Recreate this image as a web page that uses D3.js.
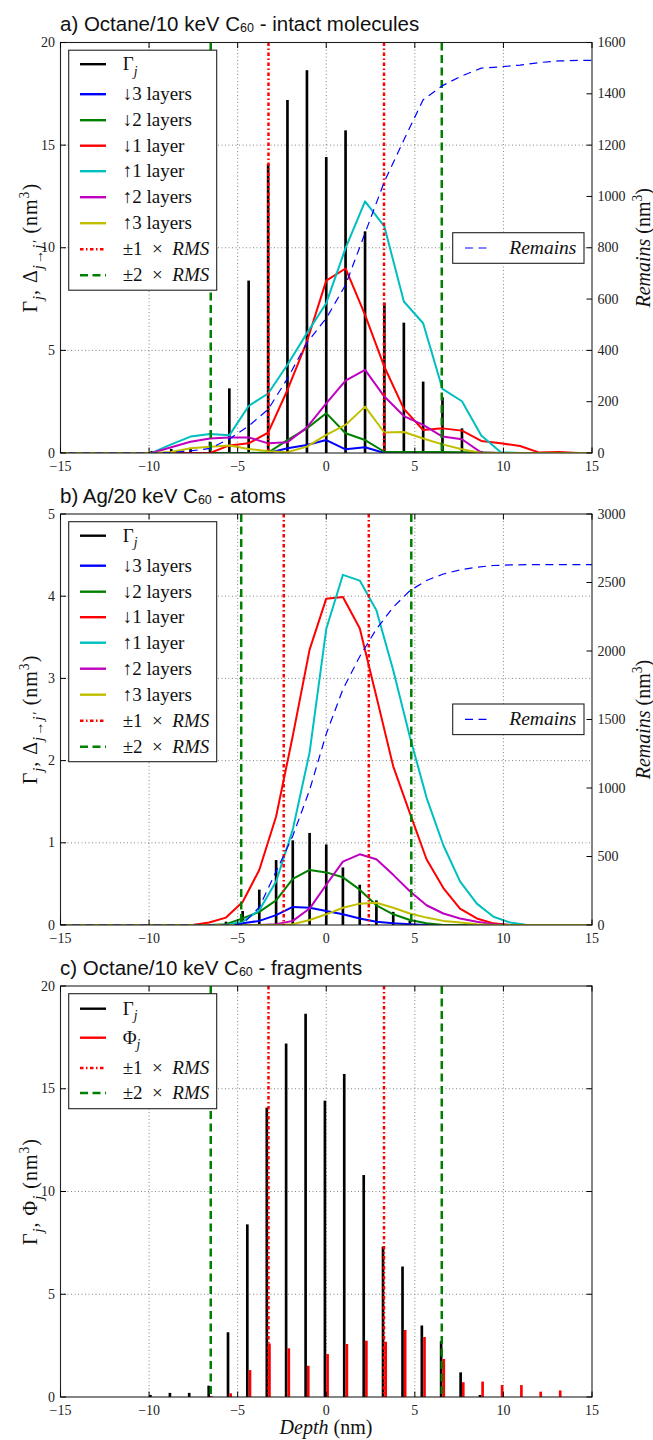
<!DOCTYPE html>
<html>
<head>
<meta charset="utf-8">
<script src="https://cdn.jsdelivr.net/npm/d3@7/dist/d3.min.js"></script>
<style>
  body { margin: 0; background: #fff; }
  svg { display: block; }
</style>
</head>
<body>
<svg id="fig" width="653" height="1440"></svg>
<script>
// ---------- Panel a: Octane/10 keV C60, intact molecules ----------
const depthA = [-15.32, -14.22, -13.13, -12.03, -10.94, -9.85, -8.75, -7.66, -6.56, -5.47, -4.38, -3.28, -2.19, -1.09, 0,
                1.09, 2.19, 3.28, 4.38, 5.47, 6.56, 7.66, 8.75, 9.85, 10.94, 12.03, 13.13, 14.22, 15.32];
const downThreeA = [0, 0, 0, 0, 0, 0, 0, 0, 0, 0, 0, 0, 0.23, 0.39, 0.63, 0.18, 0.28, 0.0, 0, 0, 0, 0, 0, 0, 0, 0, 0, 0, 0];
const downTwoA   = [0, 0, 0, 0, 0, 0, 0, 0, 0, 0, 0, 0.02, 0.63, 1.2, 1.94, 0.96, 0.63, 0.06, 0.05, 0.05, 0.05, 0.04, 0.02, 0, 0, 0, 0, 0, 0];
const downOneA   = [0, 0, 0, 0, 0, 0, 0, 0, 0, 0.37, 0.47, 0.99, 3.07, 5.43, 8.4, 8.99, 6.73, 4.2, 2.15, 1.12, 1.2, 1.09, 0.59, 0.47, 0.34, 0.02, 0.05, 0, 0];
const upOneA     = [0, 0, 0, 0, 0, 0, 0.42, 0.8, 0.93, 0.86, 2.29, 2.9, 4.3, 5.84, 7.3, 9.98, 12.26, 11.04, 7.38, 6.32, 3.12, 2.52, 0.85, 0.04, 0, 0, 0, 0, 0];
const upTwoA     = [0, 0, 0, 0, 0, 0, 0.28, 0.55, 0.71, 0.76, 0.76, 0.47, 0.52, 1.25, 2.42, 3.53, 4.05, 2.75, 1.8, 1.37, 0.8, 0.67, 0.02, 0, 0, 0, 0, 0, 0];
const upThreeA   = [0, 0, 0, 0, 0, 0, 0.05, 0.23, 0.31, 0.37, 0.2, 0.08, 0.04, 0.31, 0.88, 1.37, 2.26, 1.0, 1.02, 0.71, 0.42, 0.18, 0, 0, 0, 0, 0, 0, 0];
const remainsA   = [0, 0, 0, 0, 0, 0, 2, 8, 18, 55, 105, 170, 290, 430, 525, 655, 857, 1058, 1220, 1377, 1432, 1470, 1500, 1505, 1512, 1522, 1528, 1530, 1530];

// Γj for the octane runs (panels a and c)
const barDepthOct = [-9.85, -8.75, -7.66, -6.56, -5.47, -4.38, -3.28, -2.19, -1.09, 0, 1.09, 2.19, 3.28, 4.38, 5.47, 6.56, 7.66, 8.75];
const gammaOct    = [0.1, 0.2, 0.2, 0.55, 3.15, 8.4, 14.08, 17.2, 18.65, 14.42, 15.72, 10.8, 7.32, 6.35, 3.48, 2.72, 1.2, 0.1];
const rmsOct = 3.26;

// ---------- Panel b: Ag/20 keV C60, atoms ----------
const depthB = [-15.10, -14.16, -13.22, -12.27, -11.33, -10.38, -9.44, -8.50, -7.55, -6.61, -5.66, -4.72, -3.78, -2.83, -1.89, -0.94, 0,
                0.94, 1.89, 2.83, 3.78, 4.72, 5.66, 6.61, 7.55, 8.50, 9.44, 10.38, 11.33, 12.27, 13.22, 14.16, 15.10];
const downThreeB = [0, 0, 0, 0, 0, 0, 0, 0, 0, 0, 0, 0.02, 0.05, 0.12, 0.22, 0.21, 0.17, 0.13, 0.08, 0.04, 0.02, 0.01, 0, 0, 0, 0, 0, 0, 0, 0, 0, 0, 0];
const downTwoB   = [0, 0, 0, 0, 0, 0, 0, 0, 0, 0, 0.01, 0.08, 0.16, 0.3, 0.56, 0.67, 0.64, 0.58, 0.43, 0.24, 0.13, 0.06, 0.02, 0, 0, 0, 0, 0, 0, 0, 0, 0, 0];
const downOneB   = [0, 0, 0, 0, 0, 0, 0, 0, 0, 0.03, 0.09, 0.28, 0.67, 1.32, 2.3, 3.35, 3.97, 3.99, 3.61, 2.78, 1.93, 1.36, 0.8, 0.45, 0.2, 0.08, 0.02, 0, 0, 0, 0, 0, 0];
const upOneB     = [0, 0, 0, 0, 0, 0, 0, 0, 0, 0, 0, 0.04, 0.18, 0.53, 1.16, 2.1, 3.6, 4.26, 4.19, 3.83, 3.1, 2.29, 1.55, 0.97, 0.53, 0.26, 0.1, 0.03, 0, 0, 0, 0, 0];
const upTwoB     = [0, 0, 0, 0, 0, 0, 0, 0, 0, 0, 0, 0, 0, 0.01, 0.05, 0.2, 0.49, 0.77, 0.86, 0.8, 0.61, 0.41, 0.24, 0.14, 0.08, 0.04, 0.01, 0, 0, 0, 0, 0, 0];
const upThreeB   = [0, 0, 0, 0, 0, 0, 0, 0, 0, 0, 0, 0, 0, 0, 0.01, 0.06, 0.13, 0.21, 0.26, 0.27, 0.21, 0.14, 0.09, 0.05, 0.03, 0.01, 0, 0, 0, 0, 0, 0, 0];
const remainsB   = [0, 0, 0, 0, 0, 0, 0, 0, 0, 0, 0, 5, 130, 390, 650, 985, 1395, 1720, 1960, 2160, 2320, 2440, 2515, 2562, 2592, 2612, 2624, 2628, 2630, 2630, 2630, 2630, 2630];
const barDepthAg = [-5.66, -4.72, -3.78, -2.83, -1.89, -0.94, 0, 0.94, 1.89, 2.83, 3.78, 4.72];
const gammaAg    = [0.04, 0.17, 0.43, 0.79, 1.03, 1.12, 0.98, 0.7, 0.49, 0.3, 0.16, 0.05];
const rmsAg = 2.4;

// ---------- Panel c: Octane/10 keV C60, fragments ----------
const phiDepth = [-9.85, -8.75, -7.66, -6.56, -5.47, -4.38, -3.28, -2.19, -1.09, 0, 1.09, 2.19, 3.28, 4.38, 5.47, 6.56, 7.66, 8.75, 9.85, 10.94, 12.03, 13.13];
const phiOct   = [0, 0, 0, 0.05, 0.18, 1.31, 2.6, 2.37, 1.52, 2.09, 2.58, 2.74, 2.69, 3.26, 2.92, 1.85, 0.72, 0.75, 0.58, 0.58, 0.26, 0.32];

// ---------- axis ticks ----------
const xTicks = [-15, -10, -5, 0, 5, 10, 15];
const yTicksOct = [0, 5, 10, 15, 20];
const yTicksAg = [0, 1, 2, 3, 4, 5];
const remTicksOct = [0, 200, 400, 600, 800, 1000, 1200, 1400, 1600];
const remTicksAg = [0, 500, 1000, 1500, 2000, 2500, 3000];

// ---------- styling ----------
const C = { blue: "#0000ff", green: "#008000", red: "#ff0000", cyan: "#00bfbf", magenta: "#bf00bf", yellow: "#bfbf00", black: "#000000" };
const SERIF = "'Liberation Serif', 'Times New Roman', serif";
const SANS = "'Liberation Sans', Arial, sans-serif";
const DASH_RMS1 = "3.5,2.5,1.5,2.5";
const DASH_RMS2 = "8,4.5";
const DASH_REM = "8,5.5";
const EN = "\u2002";

const svg = d3.select("#fig");
const x = d3.scaleLinear().domain([-15, 15]).range([60.5, 592]);

// Writes a run of styled text pieces (subscripts, superscripts, italics) into a <text>.
function rich(sel, segs, size) {
  let shift = 0;
  segs.forEach(s => {
    const sp = sel.append("tspan").text(s.t);
    let target = 0, fs = size;
    if (s.sub) { target = size * 0.28; fs = size * 0.72; }
    if (s.sup) { target = -size * 0.42; fs = size * 0.68; }
    if (target - shift !== 0) sp.attr("dy", target - shift);
    shift = target;
    sp.attr("font-size", fs);
    if (s.it) sp.attr("font-style", "italic");
  });
  return sel;
}

const lblGamma = [{ t: "Γ" }, { t: "j", sub: 1, it: 1 }];
const lblPhi = [{ t: "Φ" }, { t: "j", sub: 1, it: 1 }];
const lblRms1 = [{ t: "±1" + EN + "×" + EN }, { t: "RMS", it: 1 }];
const lblRms2 = [{ t: "±2" + EN + "×" + EN }, { t: "RMS", it: 1 }];

function panel(cfg) {
  const y = d3.scaleLinear().domain(cfg.yDomain).range([cfg.bottom, cfg.top]);
  const g = svg.append("g");
  const clipId = "clip-" + cfg.id;
  svg.append("defs").append("clipPath").attr("id", clipId)
    .append("rect").attr("x", x(-15)).attr("y", cfg.top).attr("width", x(15) - x(-15)).attr("height", cfg.bottom - cfg.top);

  // title
  const title = g.append("text").attr("x", 60).attr("y", cfg.top - 11.5)
    .attr("font-family", SANS).attr("font-size", 20.5).attr("fill", "#111");
  title.append("tspan").text(cfg.title[0]);
  title.append("tspan").text("60").attr("font-size", 12.5).attr("dy", 1);
  title.append("tspan").text(cfg.title[1]).attr("dy", -1);

  // grid
  const grid = g.append("g").attr("stroke", "#666").attr("stroke-width", 0.8).attr("stroke-dasharray", "1,2.5");
  xTicks.slice(1, -1).forEach(t => grid.append("line").attr("x1", x(t)).attr("x2", x(t)).attr("y1", cfg.top).attr("y2", cfg.bottom));
  cfg.yTicks.slice(1, -1).forEach(t => grid.append("line").attr("x1", x(-15)).attr("x2", x(15)).attr("y1", y(t)).attr("y2", y(t)));

  const plot = g.append("g").attr("clip-path", `url(#${clipId})`);

  // bars
  cfg.bars.forEach(b => {
    plot.append("g").selectAll("rect").data(b.depth.map((d, i) => [d, b.values[i]])).join("rect")
      .attr("x", d => x(d[0] + b.offset)).attr("width", x(b.width) - x(0))
      .attr("y", d => y(d[1])).attr("height", d => y(0) - y(d[1]))
      .attr("fill", b.color);
  });

  // layer-transfer curves
  const line = d3.line().x(d => x(d[0])).y(d => y(d[1]));
  (cfg.lines || []).forEach(l => {
    plot.append("path").datum(cfg.lineDepth.map((d, i) => [d, l.values[i]]))
      .attr("d", line).attr("fill", "none").attr("stroke", l.color).attr("stroke-width", 2)
      .attr("stroke-linejoin", "round");
  });

  // ±1 and ±2 RMS markers
  [-1, 1].forEach(s => {
    plot.append("line").attr("x1", x(s * cfg.rms)).attr("x2", x(s * cfg.rms)).attr("y1", cfg.top).attr("y2", cfg.bottom)
      .attr("stroke", C.red).attr("stroke-width", 2.5).attr("stroke-dasharray", DASH_RMS1);
  });
  [-1, 1].forEach(s => {
    plot.append("line").attr("x1", x(2 * s * cfg.rms)).attr("x2", x(2 * s * cfg.rms)).attr("y1", cfg.top).attr("y2", cfg.bottom)
      .attr("stroke", C.green).attr("stroke-width", 2.5).attr("stroke-dasharray", DASH_RMS2);
  });

  // frame
  g.append("rect").attr("x", x(-15)).attr("y", cfg.top).attr("width", x(15) - x(-15)).attr("height", cfg.bottom - cfg.top)
    .attr("fill", "none").attr("stroke", "#222").attr("stroke-width", 1.1);

  // x ticks and labels
  const tk = g.append("g").attr("stroke", "#000").attr("stroke-width", 1);
  xTicks.forEach(t => {
    tk.append("line").attr("x1", x(t)).attr("x2", x(t)).attr("y1", cfg.bottom).attr("y2", cfg.bottom - 5.5);
    tk.append("line").attr("x1", x(t)).attr("x2", x(t)).attr("y1", cfg.top).attr("y2", cfg.top + 5.5);
  });
  g.append("g").selectAll("text").data(xTicks).join("text")
    .attr("x", d => x(d)).attr("y", cfg.bottom + 18).attr("text-anchor", "middle")
    .attr("font-family", SERIF).attr("font-size", 14).attr("fill", "#222")
    .text(d => d < 0 ? "\u2212" + Math.abs(d) : String(d));

  // left y ticks and labels
  cfg.yTicks.forEach(t => {
    tk.append("line").attr("x1", x(-15)).attr("x2", x(-15) + 5.5).attr("y1", y(t)).attr("y2", y(t));
    if (!cfg.remains) tk.append("line").attr("x1", x(15)).attr("x2", x(15) - 5.5).attr("y1", y(t)).attr("y2", y(t));
  });
  g.append("g").selectAll("text").data(cfg.yTicks).join("text")
    .attr("x", 55).attr("y", d => y(d) + 4.5).attr("text-anchor", "end")
    .attr("font-family", SERIF).attr("font-size", 14).attr("fill", "#222").text(d => d);

  const midY = (cfg.top + cfg.bottom) / 2;
  rich(g.append("text").attr("transform", `translate(37,${midY}) rotate(-90)`).attr("text-anchor", "middle")
    .attr("font-family", SERIF).attr("letter-spacing", 1).attr("fill", "#111"), cfg.yLabel, 20);

  // legend
  const lg = g.append("g");
  const lx = 68.7, ly = cfg.top + 7.7;
  lg.append("rect").attr("x", lx).attr("y", ly).attr("width", 148).attr("height", cfg.legendH)
    .attr("fill", "#fff").attr("stroke", "#222").attr("stroke-width", 1.1);
  cfg.legend.forEach((it, i) => {
    const ry = ly + cfg.legendRows[i];
    lg.append("line").attr("x1", 80).attr("x2", 106).attr("y1", ry).attr("y2", ry)
      .attr("stroke", it.color).attr("stroke-width", it.dash ? 2.5 : 2.4)
      .attr("stroke-dasharray", it.dash || null);
    rich(lg.append("text").attr("x", 122.7).attr("y", ry + 6).attr("font-family", SERIF).attr("fill", "#111"), it.label, 19);
  });

  // twin axis: cumulative remaining volume
  if (cfg.remains) {
    const r = cfg.remains;
    const yr = d3.scaleLinear().domain(r.domain).range([cfg.bottom, cfg.top]);
    const rline = d3.line().x(d => x(d[0])).y(d => yr(d[1]));
    plot.append("path").datum(cfg.lineDepth.map((d, i) => [d, r.values[i]]))
      .attr("d", rline).attr("fill", "none").attr("stroke", C.blue).attr("stroke-width", 1.2)
      .attr("stroke-dasharray", DASH_REM);
    r.ticks.forEach(t => {
      tk.append("line").attr("x1", x(15)).attr("x2", x(15) - 5.5).attr("y1", yr(t)).attr("y2", yr(t));
    });
    g.append("g").selectAll("text").data(r.ticks).join("text")
      .attr("x", 597.5).attr("y", d => yr(d) + 4.5)
      .attr("font-family", SERIF).attr("font-size", 14).attr("fill", "#222").text(d => d);
    rich(g.append("text").attr("transform", `translate(650,${midY}) rotate(-90)`).attr("text-anchor", "middle")
      .attr("font-family", SERIF).attr("fill", "#111"),
      [{ t: "Remains", it: 1 }, { t: " (nm" }, { t: "3", sup: 1 }, { t: ")" }], 20);
    const rb = g.append("g");
    rb.append("rect").attr("x", 452.7).attr("y", r.boxY).attr("width", 131.3).attr("height", 30.6)
      .attr("fill", "#fff").attr("stroke", "#222").attr("stroke-width", 1.1);
    rb.append("line").attr("x1", 465).attr("x2", 487).attr("y1", r.boxY + 15.3).attr("y2", r.boxY + 15.3)
      .attr("stroke", C.blue).attr("stroke-width", 1.2).attr("stroke-dasharray", DASH_REM);
    rb.append("text").attr("x", 509.3).attr("y", r.boxY + 21.3).attr("font-family", SERIF)
      .attr("font-size", 19.5).attr("font-style", "italic").attr("fill", "#111").text("Remains");
  }
  return y;
}

const layerLegend = [
  { color: C.black, label: lblGamma },
  { color: C.blue, label: [{ t: "↓3 layers" }] },
  { color: C.green, label: [{ t: "↓2 layers" }] },
  { color: C.red, label: [{ t: "↓1 layer" }] },
  { color: C.cyan, label: [{ t: "↑1 layer" }] },
  { color: C.magenta, label: [{ t: "↑2 layers" }] },
  { color: C.yellow, label: [{ t: "↑3 layers" }] },
  { color: C.red, label: lblRms1, dash: DASH_RMS1 },
  { color: C.green, label: lblRms2, dash: DASH_RMS2 }
];
const layerRows = [14, 44, 70, 95.5, 121, 147, 173, 199, 225];
const deltaLabel = [{ t: "Γ" }, { t: "j", sub: 1, it: 1 }, { t: ", Δ" }, { t: "j→j′", sub: 1, it: 1 },
                    { t: " (nm" }, { t: "3", sup: 1 }, { t: ")" }];

panel({
  id: "a", title: ["a) Octane/10 keV C", " - intact molecules"],
  top: 42.5, bottom: 453, yDomain: [0, 20], yTicks: yTicksOct, rms: rmsOct,
  bars: [{ depth: barDepthOct, values: gammaOct, offset: -0.075, width: 0.15, color: C.black }],
  lineDepth: depthA,
  lines: [
    { values: downThreeA, color: C.blue }, { values: downTwoA, color: C.green }, { values: downOneA, color: C.red },
    { values: upOneA, color: C.cyan }, { values: upTwoA, color: C.magenta }, { values: upThreeA, color: C.yellow }
  ],
  yLabel: deltaLabel, legend: layerLegend, legendRows: layerRows, legendH: 240,
  remains: { values: remainsA, domain: [0, 1600], ticks: remTicksOct, boxY: 232.7 }
});

panel({
  id: "b", title: ["b) Ag/20 keV C", " - atoms"],
  top: 514, bottom: 925, yDomain: [0, 5], yTicks: yTicksAg, rms: rmsAg,
  bars: [{ depth: barDepthAg, values: gammaAg, offset: -0.075, width: 0.15, color: C.black }],
  lineDepth: depthB,
  lines: [
    { values: downThreeB, color: C.blue }, { values: downTwoB, color: C.green }, { values: downOneB, color: C.red },
    { values: upOneB, color: C.cyan }, { values: upTwoB, color: C.magenta }, { values: upThreeB, color: C.yellow }
  ],
  yLabel: deltaLabel, legend: layerLegend, legendRows: layerRows, legendH: 240,
  remains: { values: remainsB, domain: [0, 3000], ticks: remTicksAg, boxY: 704 }
});

panel({
  id: "c", title: ["c) Octane/10 keV C", " - fragments"],
  top: 986, bottom: 1397, yDomain: [0, 20], yTicks: yTicksOct, rms: rmsOct,
  bars: [
    { depth: barDepthOct, values: gammaOct, offset: -0.15, width: 0.15, color: C.black },
    { depth: phiDepth, values: phiOct, offset: 0.0, width: 0.15, color: C.red }
  ],
  lineDepth: [], lines: [],
  yLabel: [{ t: "Γ" }, { t: "j", sub: 1, it: 1 }, { t: ", Φ" }, { t: "j", sub: 1, it: 1 }, { t: " (nm" }, { t: "3", sup: 1 }, { t: ")" }],
  legend: [
    { color: C.black, label: lblGamma }, { color: C.red, label: lblPhi },
    { color: C.red, label: lblRms1, dash: DASH_RMS1 }, { color: C.green, label: lblRms2, dash: DASH_RMS2 }
  ],
  legendRows: [15, 44, 74.4, 99.4], legendH: 115
});

// shared depth axis label
rich(svg.append("text").attr("x", 326).attr("y", 1434).attr("text-anchor", "middle")
  .attr("font-family", SERIF).attr("fill", "#111"), [{ t: "Depth", it: 1 }, { t: " (nm)" }], 20);
</script>
</body>
</html>
